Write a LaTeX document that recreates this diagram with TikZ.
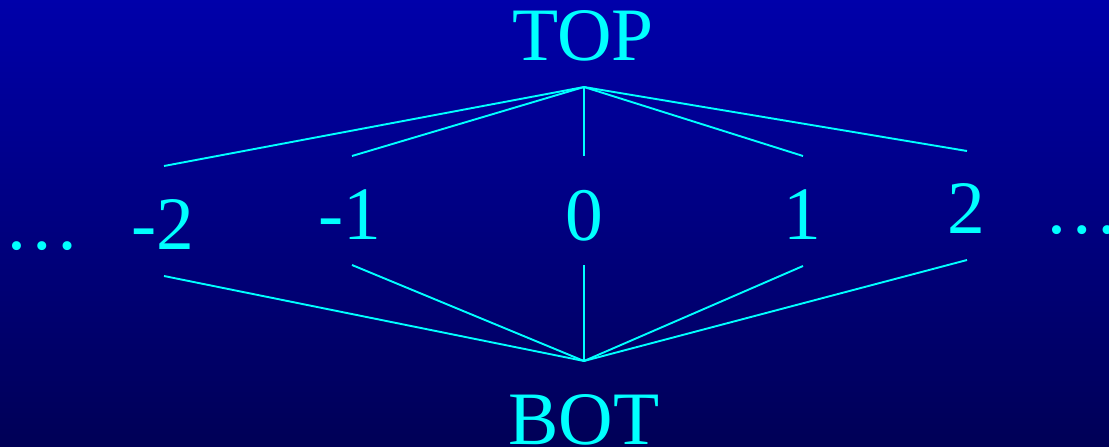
\documentclass[tikz,border=0pt]{standalone}
\usepackage{fontspec}
\setmainfont{Liberation Serif}
\definecolor{bgtop}{RGB}{0,0,170}
\definecolor{bgbot}{RGB}{0,0,86}
\definecolor{cy}{RGB}{0,255,255}
\begin{document}
\begin{tikzpicture}[x=1pt,y=-1pt,
  lbl/.style={anchor=base,inner sep=0pt,text=cy,font=\fontsize{75.5}{80}\selectfont},
  edge/.style={draw=cy,line width=1.9pt}]
\useasboundingbox (0,0) rectangle (1109,447);
\shade[top color=bgtop,bottom color=bgbot] (0,0) rectangle (1109,447);
% labels
\node[lbl] (top) at (583,60) {TOP};
\node[lbl] (bot) at (584,444) {BOT};
\node[lbl] (dl) at (42,249) {…};
\node[lbl] (m2) at (163,249) {-2};
\node[lbl] (m1) at (350,239) {-1};
\node[lbl] (z) at (584,240) {0};
\node[lbl] (p1) at (802,239) {1};
\node[lbl] (p2) at (966,233) {2};
\node[lbl] (dr) at (1082,233) {…};
% connector ends
\coordinate (at) at (584,87);
\coordinate (ab) at (584,361);
\coordinate (tm2) at (164,166);
\coordinate (tm1) at (352,156);
\coordinate (tz) at (584,156);
\coordinate (tp1) at (803,156);
\coordinate (tp2) at (967,151);
\coordinate (bm2) at (164,276);
\coordinate (bm1) at (352,265);
\coordinate (bz) at (584,265);
\coordinate (bp1) at (803,266);
\coordinate (bp2) at (967,260);
\foreach \e in {tm2,tm1,tz,tp1,tp2} \draw[edge] (at) -- (\e);
\foreach \e in {bm2,bm1,bz,bp1,bp2} \draw[edge] (ab) -- (\e);
\end{tikzpicture}
\end{document}
